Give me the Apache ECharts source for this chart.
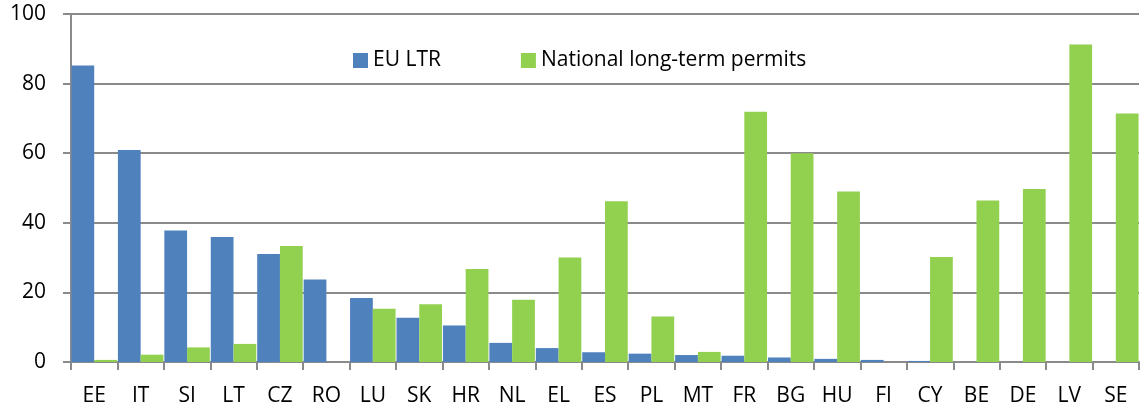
<!DOCTYPE html>
<html>
<head>
<meta charset="utf-8">
<script src="https://cdn.jsdelivr.net/npm/echarts@6/dist/echarts.min.js"></script>
<style>
  html, body { margin: 0; padding: 0; background: #fff; }
  #chart { width: 1141px; height: 410px; }
</style>
</head>
<body>
<div id="chart"></div>
<script>
// countries, in the order of the picture
var countries = ['EE', 'IT', 'SI', 'LT', 'CZ', 'RO', 'LU', 'SK', 'HR', 'NL', 'EL', 'ES',
  'PL', 'MT', 'FR', 'BG', 'HU', 'FI', 'CY', 'BE', 'DE', 'LV', 'SE'];
// EU long-term residents
var euLtr = [85.2, 60.9, 37.8, 35.9, 31.0, 23.7, 18.4, 12.7, 10.5, 5.5, 4.0, 2.8,
  2.4, 2.0, 1.8, 1.3, 0.9, 0.6, 0.3, 0, 0, 0, 0];
// national long-term permits
var nationalLt = [0.6, 2.1, 4.2, 5.2, 33.3, 0, 15.3, 16.6, 26.7, 17.9, 30.0, 46.2,
  13.1, 2.9, 71.9, 60.0, 49.0, 0, 30.2, 46.4, 49.7, 91.2, 71.4];
var yTicks = [0, 20, 40, 60, 80, 100];

var font = 'Open Sans';
var grey = '#8a8a8a';

var chart = echarts.init(document.getElementById('chart'));
chart.setOption({
  backgroundColor: '#fff',
  animation: false,
  textStyle: { fontFamily: font },
  legend: {
    left: 348,
    top: 45,
    itemWidth: 15,
    itemHeight: 15,
    itemGap: 80,
    icon: 'rect',
    textStyle: { fontSize: 21, color: '#000', fontFamily: font },
    data: ['EU LTR', 'National long-term permits']
  },
  grid: {
    left: 71,
    right: 2,
    top: 14,
    bottom: 48
  },
  xAxis: {
    type: 'category',
    data: countries,
    axisLine: { lineStyle: { color: grey, width: 2 } },
    axisTick: { show: true, length: 8, lineStyle: { color: grey, width: 2 } },
    axisLabel: { fontSize: 21, color: '#000', margin: 24 }
  },
  yAxis: {
    type: 'value',
    min: yTicks[0],
    max: yTicks[yTicks.length - 1],
    interval: 20,
    axisLine: { show: true, lineStyle: { color: grey, width: 2 } },
    axisTick: { show: true, length: 8, lineStyle: { color: grey, width: 2 } },
    splitLine: { lineStyle: { color: grey, width: 2 } },
    axisLabel: { fontSize: 21, color: '#000', margin: 25 }
  },
  series: [{
    name: 'EU LTR',
    type: 'bar',
    data: euLtr,
    barGap: '0%',
    barCategoryGap: '2%',
    itemStyle: { color: '#4F81BD' }
  }, {
    name: 'National long-term permits',
    type: 'bar',
    data: nationalLt,
    itemStyle: { color: '#92D050' }
  }]
});
</script>
</body>
</html>
